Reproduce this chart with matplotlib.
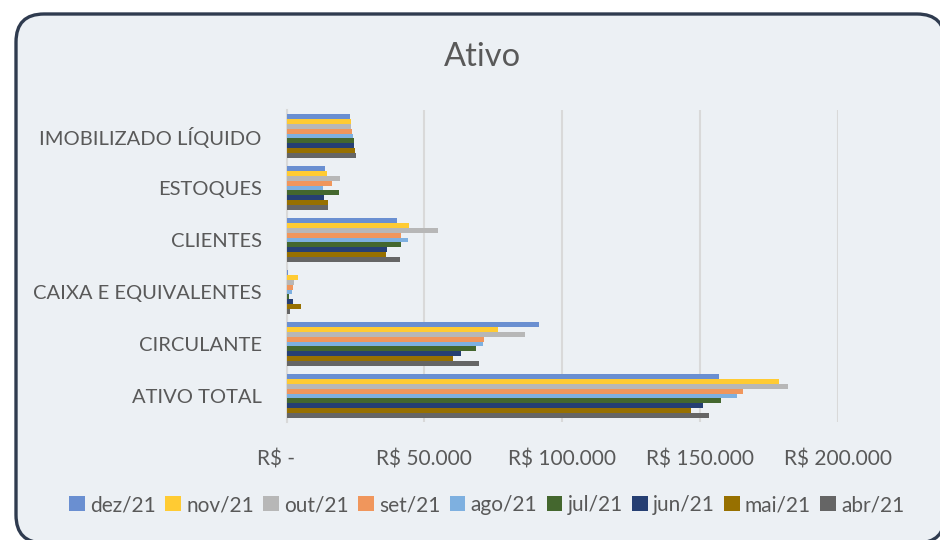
import matplotlib.pyplot as plt
import numpy as np
from matplotlib.patches import FancyBboxPatch, Patch

plt.rcParams["font.family"] = ["Lato", "DejaVu Sans"]

categories = ["ATIVO TOTAL", "CIRCULANTE", "CAIXA E EQUIVALENTES",
              "CLIENTES", "ESTOQUES", "IMOBILIZADO LÍQUIDO"]
months = ["dez/21", "nov/21", "out/21", "set/21", "ago/21",
          "jul/21", "jun/21", "mai/21", "abr/21"]

dez = [156800, 91700, 400, 40000, 14000, 23100]
nov = [178700, 76800, 4100, 44400, 14600, 23300]
out = [181700, 86500, 2600, 54900, 19300, 23500]
set_ = [165700, 71500, 2250, 41600, 16400, 23800]
ago = [163400, 71400, 2000, 43900, 13400, 24000]
jul = [157600, 68700, 800, 41600, 19100, 24400]
jun = [150900, 63300, 2250, 36400, 13700, 24600]
mai = [146800, 60500, 5400, 36000, 15200, 25000]
abr = [153300, 69800, 1400, 41200, 15100, 25200]
series = [dez, nov, out, set_, ago, jul, jun, mai, abr]

colors = ["#6A8FD1", "#FFCB33", "#B7B7B7", "#F0965C", "#7EB0E0",
          "#44672E", "#263F73", "#977000", "#656565"]

xticks = [0, 50000, 100000, 150000, 200000]
xlabels = ["R$ -    ", "R$ 50.000", "R$ 100.000", "R$ 150.000", "R$ 200.000"]

txt = "#595959"
fig = plt.figure(figsize=(9.4, 5.4), dpi=100)
fig.patch.set_facecolor("white")

# rounded background frame, drawn in pixel coordinates (runs off right/bottom)
bg = fig.add_axes([0, 0, 1, 1])
bg.set_xlim(0, 940)
bg.set_ylim(540, 0)
bg.axis("off")
bg.add_patch(FancyBboxPatch((16, 14), 929, 529,
                            boxstyle="round,pad=0,rounding_size=28",
                            facecolor="#ECF0F4", edgecolor="#2F3B4F",
                            linewidth=2.4, clip_on=False))

ax = fig.add_axes([286.5 / 940, 1 - 422 / 540, (838 - 286.5) / 940, 312 / 540])
ax.set_facecolor("none")

y = np.arange(len(categories))
h = 0.84 / len(series)
for i, vals in enumerate(series):
    ax.barh(y + (4 - i) * h, vals, height=h, color=colors[i], zorder=3)

ax.set_xlim(0, 200000)
ax.set_ylim(-0.5, len(categories) - 0.5)
ax.set_xticks(xticks)
ax.set_xticklabels(xlabels)
ax.set_yticks(y)
ax.set_yticklabels(categories)
ax.tick_params(axis="both", length=0, labelsize=14.5, colors=txt)
ax.tick_params(axis="x", labelsize=15, pad=20)
ax.tick_params(axis="y", pad=18)
ax.grid(axis="x", color="#D9D9D9", linewidth=1.5, zorder=0)
for s in ["top", "right", "bottom"]:
    ax.spines[s].set_visible(False)
ax.spines["left"].set_color("#D9D9D9")
ax.spines["left"].set_linewidth(1.5)

fig.text(482 / 940, 1 - 57 / 540, "Ativo", ha="center", va="center",
         fontsize=23.5, color=txt)

handles = [Patch(facecolor=c, label=m) for c, m in zip(colors, months)]
fig.legend(handles=handles, loc="center", bbox_to_anchor=(487 / 940, 1 - 505 / 540),
           ncol=9, frameon=False, fontsize=15, labelcolor=txt,
           handlelength=0.75, handleheight=0.75, handletextpad=0.25,
           columnspacing=0.45)

plt.savefig("out.png", dpi=100, facecolor="white")
